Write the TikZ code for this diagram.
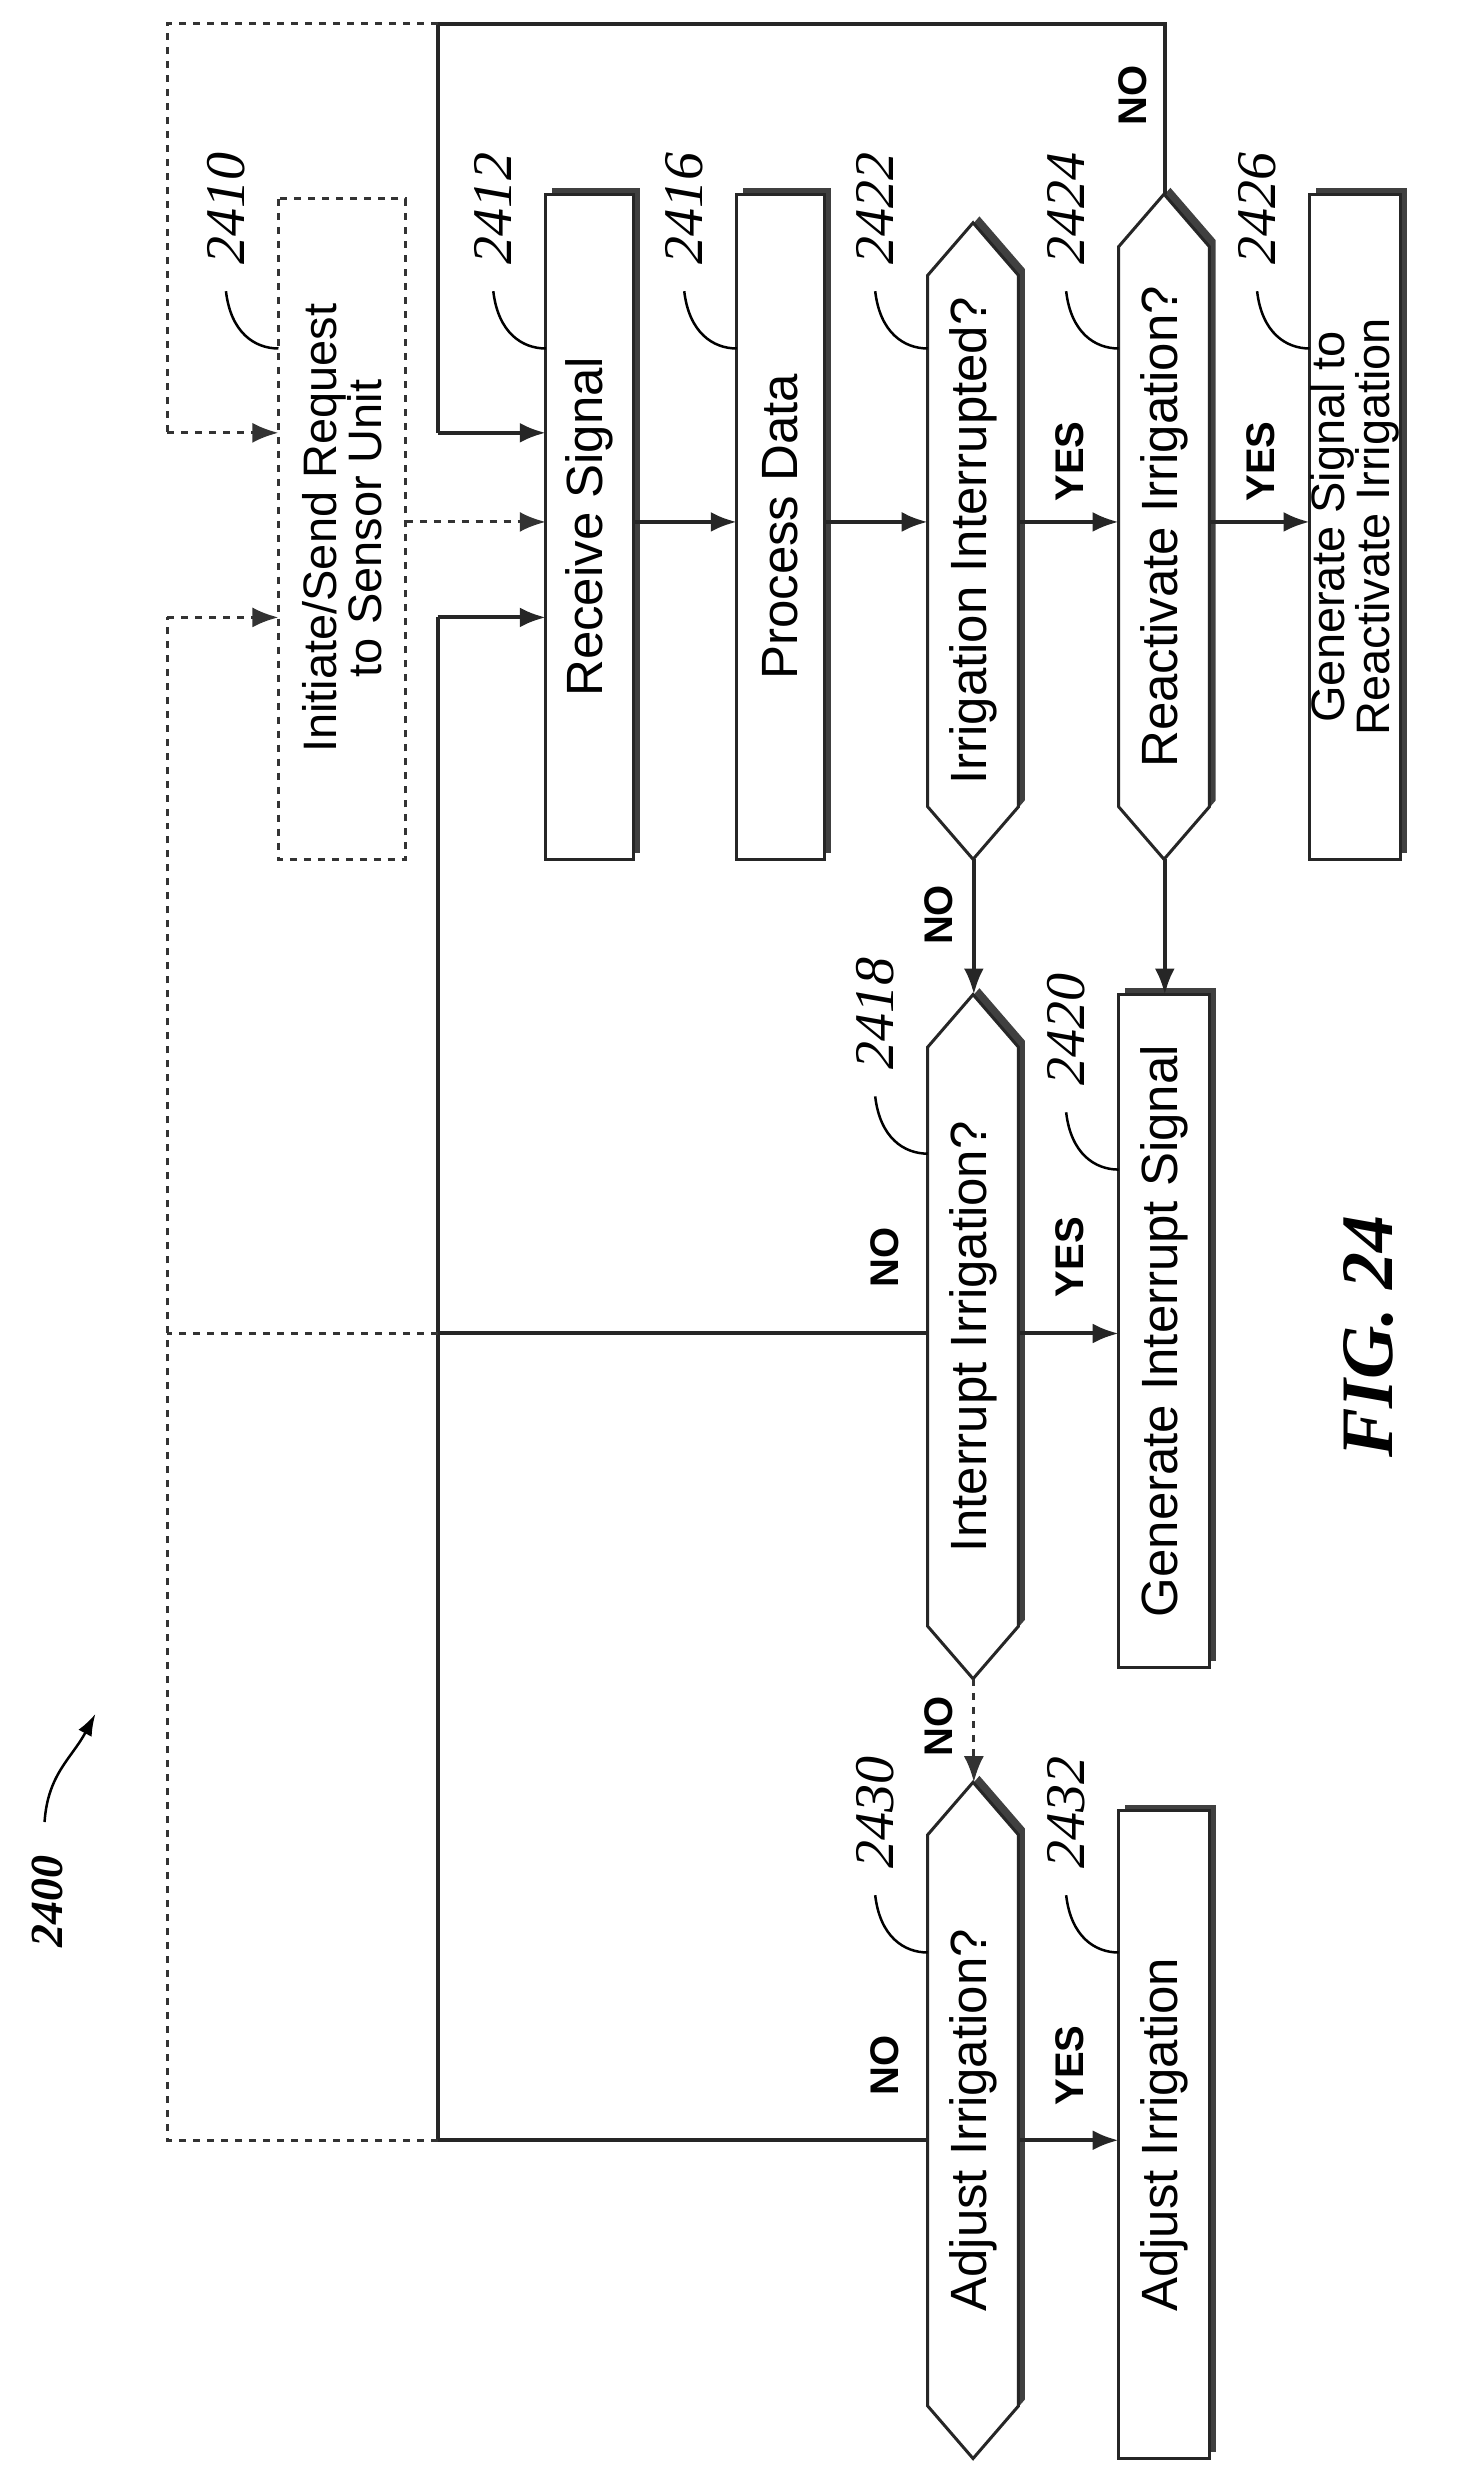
\documentclass[tikz,border=0pt]{standalone}
\usepackage{fontspec}
\setmainfont{Liberation Sans}
\newfontfamily\serifi{Liberation Serif}
\usetikzlibrary{arrows.meta}
\begin{document}
\begin{tikzpicture}[x=1.592pt,y=-1.592pt,
  ln/.style={line width=4pt,draw=black!85},
  dsh/.style={line width=3pt,draw=black!80,dash pattern=on 7pt off 7pt},
  arr/.style={-{Latex[length=26pt,width=20pt]}},
  txt/.style={rotate=90,font=\fontsize{51}{42}\selectfont,align=center,inner sep=0},
  txt2/.style={txt,font=\fontsize{47}{41}\selectfont},
  yn/.style={rotate=90,font=\fontsize{40}{44}\selectfont\bfseries,inner sep=0},
  num/.style={rotate=90,font=\fontsize{56}{60}\serifi\itshape,inner sep=0}]
\useasboundingbox (0,0) rectangle (916,1556);
\newcommand\hexa[6]{%
  \pgfmathsetmacro\cx{(#2+#3)/2}
  \fill[black!75] ({\cx+4},{#4-4}) -- ({#3+4},{#4+29}) -- ({#3+4},{#5-37}) -- ({\cx+4},{#5-4}) -- ({#2+4},{#5-37}) -- ({#2+4},{#4+29}) -- cycle;
  \draw[ln,fill=white,line width=3pt] (\cx,#4) -- (#3,{#4+33}) -- (#3,{#5-33}) -- (\cx,#5) -- (#2,{#5-33}) -- (#2,{#4+33}) -- cycle;
  \node[txt] (#1) at (\cx,{(#4+#5)/2}) {#6};}
\newcommand\boxx[7][txt]{%
  \fill[black!75] ({#3+4},{#5-4}) rectangle ({#4+4},{#6-4});
  \draw[ln,fill=white,line width=3pt] (#3,#5) rectangle (#4,#6);
  \node[#1] (#2) at ({(#3+#4)/2},{(#5+#6)/2}) {#7};}
\newcommand\reflab[4]{% name, x, y, text
  \node[num] (#1) at ({#2-33},{#3-88}) {#4};
  \draw[line width=2.5pt] ({#2-33},{#3-36}) .. controls ({#2-30},{#3-10}) and ({#2-15},{#3}) .. ({#2},{#3});}
% dashed box
\draw[dsh] (175,125) rectangle (255,540);
\node[txt2] (n2410) at (215,332) {Initiate/Send Request\\to Sensor Unit};
\boxx{rs}{343}{398}{122}{540}{Receive Signal}
\boxx{pd}{463}{518}{122}{540}{Process Data}
\hexa{ii}{583}{640}{140}{540}{Irrigation Interrupted?}
\hexa{ri}{703}{760}{122}{540}{Reactivate Irrigation?}
\boxx[txt2]{gs}{823}{880}{122}{540}{Generate Signal to\\Reactivate Irrigation}
\hexa{iq}{583}{640}{625}{1055}{Interrupt Irrigation?}
\boxx{gi}{703}{760}{625}{1048}{Generate Interrupt Signal}
\hexa{aq}{583}{640}{1120}{1545}{Adjust Irrigation?}
\boxx{ai}{703}{760}{1138}{1545}{Adjust Irrigation}
% labels
\reflab{l2410}{175}{219}{2410}
\reflab{l2412}{343}{219}{2412}
\reflab{l2416}{463}{219}{2416}
\reflab{l2422}{583}{219}{2422}
\reflab{l2424}{703}{219}{2424}
\reflab{l2426}{823}{219}{2426}
\reflab{l2418}{583}{725}{2418}
\reflab{l2420}{703}{735}{2420}
\reflab{l2430}{583}{1227}{2430}
\reflab{l2432}{703}{1227}{2432}
% connectors
\coordinate (tl) at (105,15); \coordinate (ts) at (275,15); \coordinate (tr) at (732,15);
\draw[ln] (732,122) -- (tr) -- (ts) -- (275,272);
\draw[ln,arr] (275,272) -- (343,272);
\draw[dsh] (ts) -- (tl) -- (105,272);
\draw[dsh,arr] (105,272) -- (175,272);
\draw[dsh,arr] (255,328) -- (343,328);
\draw[ln,arr] (398,328) -- (463,328);
\draw[ln,arr] (518,328) -- (583,328);
\draw[ln,arr] (640,328) -- (703,328);
\draw[ln,arr] (760,328) -- (823,328);
\draw[ln,arr] (612,540) -- (612,625);
\draw[ln,arr] (732,540) -- (732,625);
\draw[dsh,arr] (612,1055) -- (612,1120);
% left bus
\draw[ln] (583,1345) -- (275,1345) -- (275,388);
\draw[ln,arr] (275,388) -- (343,388);
\draw[ln] (583,838) -- (275,838);
\draw[dsh] (275,1345) -- (105,1345) -- (105,388);
\draw[dsh,arr] (105,388) -- (175,388);
\draw[dsh] (275,838) -- (105,838);
\draw[ln,arr] (640,838) -- (703,838);
\draw[ln,arr] (640,1345) -- (703,1345);
% yes/no
\node[yn] at (672,290) {YES};
\node[yn] at (792,290) {YES};
\node[yn] at (712,60) {NO};
\node[yn] at (590,575) {NO};
\node[yn] at (556,790) {NO};
\node[yn] at (672,790) {YES};
\node[yn] at (590,1085) {NO};
\node[yn] at (556,1298) {NO};
\node[yn] at (672,1298) {YES};
% figure id
\node[rotate=90,font=\fontsize{46}{50}\serifi\bfseries\itshape,inner sep=0] (n2400) at (30,1195) {2400};
\draw[line width=2.5pt,-{Latex[length=22pt,width=15pt]}] (28,1145) .. controls (30,1115) and (45,1105) .. (60,1077);
\node[rotate=90,font=\fontsize{74}{78}\serifi\bfseries\itshape,inner sep=0] (fig) at (860,840) {FIG. 24};
\end{tikzpicture}
\end{document}
